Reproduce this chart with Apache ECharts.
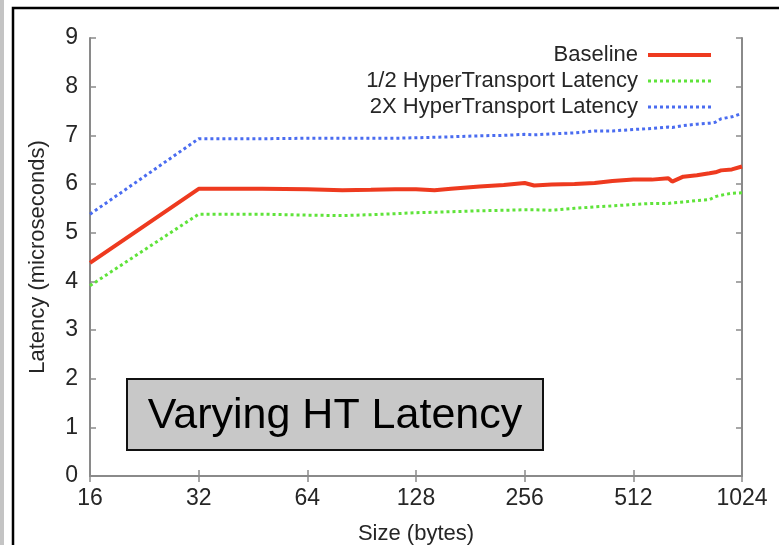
<!DOCTYPE html>
<html>
<head>
<meta charset="utf-8">
<script src="https://cdn.jsdelivr.net/npm/echarts@6/dist/echarts.min.js"></script>
<style>
  html, body { margin: 0; padding: 0; background: #fff; }
  #chart { width: 779px; height: 545px; }
</style>
</head>
<body>
<div id="chart"></div>
<script>
// Message size in bytes (log2 x axis)
const sizes = [16, 32, 48, 64, 80, 96, 112, 128, 144, 160, 192, 224, 256, 272, 304, 352, 400, 448, 512, 576, 640, 656, 704, 768, 832, 864, 896, 960, 1024];

// Latency in microseconds for each configuration
const baseline = [4.38, 5.90, 5.90, 5.89, 5.87, 5.88, 5.89, 5.89, 5.87, 5.90, 5.95, 5.98, 6.02, 5.97, 5.99, 6.00, 6.02, 6.06, 6.09, 6.09, 6.12, 6.05, 6.15, 6.18, 6.22, 6.24, 6.28, 6.30, 6.36];
const halfHT   = [3.91, 5.38, 5.38, 5.36, 5.35, 5.37, 5.39, 5.41, 5.42, 5.43, 5.45, 5.46, 5.47, 5.47, 5.46, 5.50, 5.53, 5.55, 5.58, 5.60, 5.60, 5.61, 5.63, 5.66, 5.68, 5.74, 5.77, 5.81, 5.82];
const doubleHT = [5.38, 6.93, 6.93, 6.94, 6.94, 6.94, 6.94, 6.95, 6.96, 6.97, 6.99, 7.00, 7.02, 7.01, 7.03, 7.05, 7.09, 7.09, 7.12, 7.14, 7.17, 7.16, 7.20, 7.23, 7.25, 7.27, 7.34, 7.38, 7.45];

const seriesNames = ['Baseline', '1/2 HyperTransport Latency', '2X HyperTransport Latency'];
const xTicks = [16, 32, 64, 128, 256, 512, 1024];
const yTicks = [0, 1, 2, 3, 4, 5, 6, 7, 8, 9];
const panelLabel = 'Varying HT Latency';

const pair = vals => sizes.map((s, i) => [s, vals[i]]);

const FONT = 'Liberation Sans, Arial, sans-serif';
const TEXT = '#262626';
const AXIS = '#8a8a8a';
const legendWidths = [4, 3, 3];

const chart = echarts.init(document.getElementById('chart'), null, { renderer: 'canvas' });

const frameAxis = {
  axisLine: { show: true, lineStyle: { color: AXIS, width: 2 } },
  axisTick: { show: true, inside: true, length: 6, lineStyle: { color: AXIS, width: 1.5 } },
  splitLine: { show: false }
};

chart.setOption({
  animation: false,
  backgroundColor: '#fff',
  grid: { left: 90, right: 37, top: 38, bottom: 69, containLabel: false, outerBoundsMode: 'none' },
  legend: {
    orient: 'vertical',
    align: 'right',
    right: 61,
    top: 39,
    itemGap: 4,
    itemWidth: 63,
    itemHeight: 12,
    itemStyle: { opacity: 0 },
    textStyle: { fontFamily: FONT, fontSize: 22, color: TEXT, padding: [0, 5, 0, 0] },
    data: seriesNames.map((n, i) => ({ name: n, lineStyle: { width: legendWidths[i] } }))
  },
  xAxis: [
    Object.assign({
      type: 'log', logBase: 2, min: 16, max: 1024, position: 'bottom',
      name: 'Size (bytes)', nameLocation: 'middle', nameGap: 47,
      nameTextStyle: { fontFamily: FONT, fontSize: 22, color: TEXT },
      axisLabel: {
        margin: 11, fontFamily: FONT, fontSize: 23, color: TEXT,
        showMinLabel: true, showMaxLabel: true,
        formatter: v => (xTicks.indexOf(Math.round(v)) >= 0 ? String(Math.round(v)) : '')
      }
    }, frameAxis),
    Object.assign({
      type: 'log', logBase: 2, min: 16, max: 1024, position: 'top',
      axisLabel: { show: false }
    }, frameAxis)
  ],
  yAxis: [
    Object.assign({
      type: 'value', min: yTicks[0], max: yTicks[yTicks.length - 1], interval: 1, position: 'left',
      name: 'Latency (microseconds)', nameLocation: 'middle', nameGap: 41, nameRotate: 90,
      nameTextStyle: { fontFamily: FONT, fontSize: 22, color: TEXT },
      axisLabel: { margin: 12, fontFamily: FONT, fontSize: 23, color: TEXT }
    }, frameAxis),
    Object.assign({
      type: 'value', min: yTicks[0], max: yTicks[yTicks.length - 1], interval: 1, position: 'right',
      axisLabel: { show: false }
    }, frameAxis)
  ],
  series: [
    {
      name: seriesNames[0], type: 'line', data: pair(baseline),
      symbol: 'none', showSymbol: false, smooth: false,
      lineStyle: { color: '#ee3a1f', width: 4 },
      itemStyle: { color: '#ee3a1f' }
    },
    {
      name: seriesNames[1], type: 'line', data: pair(halfHT),
      symbol: 'none', showSymbol: false,
      lineStyle: { color: '#5fe33a', width: 3, type: [3, 3] },
      itemStyle: { color: '#5fe33a' }
    },
    {
      name: seriesNames[2], type: 'line', data: pair(doubleHT),
      symbol: 'none', showSymbol: false,
      lineStyle: { color: '#4a6cf0', width: 3, type: [3, 3] },
      itemStyle: { color: '#4a6cf0' }
    }
  ],
  graphic: [
    // page frame
    { type: 'rect', left: 0, top: 0, shape: { x: 0, y: 0, width: 4, height: 545 }, style: { fill: '#c4c4c4' }, silent: true },
    { type: 'rect', shape: { x: 13, y: 8, width: 800, height: 560 }, style: { fill: null, stroke: '#000', lineWidth: 2.5 }, silent: true },
    // label panel
    {
      type: 'group', left: 126, top: 378, silent: true,
      children: [
        { type: 'rect', shape: { x: 0, y: 0, width: 416, height: 71 }, style: { fill: '#c8c8c8', stroke: '#111', lineWidth: 2 } },
        { type: 'text', x: 208, y: 37, style: { text: panelLabel, font: '43px ' + FONT, fill: '#000', align: 'center', verticalAlign: 'middle' } }
      ]
    }
  ]
});
</script>
</body>
</html>
